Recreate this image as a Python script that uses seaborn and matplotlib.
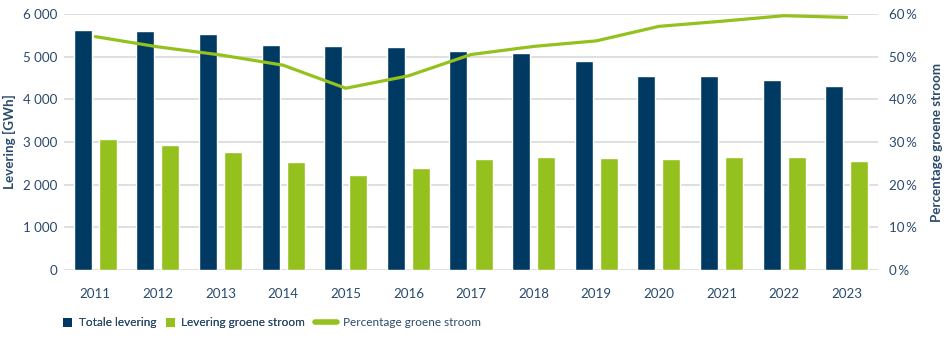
import numpy as np
import pandas as pd
import matplotlib
matplotlib.use("Agg")
import matplotlib.pyplot as plt
import seaborn as sns
from matplotlib.lines import Line2D
from matplotlib.patches import Patch
from matplotlib.ticker import FuncFormatter

years = ["2011", "2012", "2013", "2014", "2015", "2016", "2017",
         "2018", "2019", "2020", "2021", "2022", "2023"]
totale_levering = [5620, 5595, 5525, 5275, 5250, 5235, 5140,
                   5085, 4900, 4555, 4540, 4460, 4315]
groene_levering = [3070, 2930, 2765, 2525, 2235, 2390, 2595,
                   2650, 2625, 2595, 2650, 2650, 2555]
percentage_groen = [54.7, 52.3, 50.4, 48.0, 42.6, 45.5, 50.5,
                    52.4, 53.7, 57.1, 58.3, 59.6, 59.2]

series_names = ["Totale levering", "Levering groene stroom"]
line_name = "Percentage groene stroom"

NAVY = "#003a63"
GREEN = "#95c11f"
TEXT = "#2a4a6b"
GRID = "#d9d9d9"

df = pd.DataFrame({
    "jaar": years * 2,
    "waarde": totale_levering + groene_levering,
    "reeks": [series_names[0]] * len(years) + [series_names[1]] * len(years),
})

sns.set_theme(style="white")
plt.rcParams["font.family"] = ["Lato", "DejaVu Sans"]
FS = 9.6
LFS = 8.5

fig = plt.figure(figsize=(9.45, 3.38), dpi=100)
ax = fig.add_axes([64 / 945, 1 - 270 / 338, (878 - 64) / 945, (270 - 14) / 338])

sns.barplot(data=df, x="jaar", y="waarde", hue="reeks",
            palette=[NAVY, GREEN], width=0.8, gap=0.28,
            saturation=1, ax=ax, legend=False)

ax.set_xlim(-0.5, len(years) - 0.5)
ax.set_ylim(0, 6000)
ax.set_yticks(np.arange(0, 6001, 1000))
ax.yaxis.set_major_formatter(FuncFormatter(lambda v, p: f"{int(v):,}".replace(",", " ")))
ax.grid(axis="y", color=GRID, linewidth=1.2)
ax.set_axisbelow(True)
for s in ax.spines.values():
    s.set_visible(False)
ax.set_xlabel("")
ax.set_ylabel("Levering [GWh]", color=TEXT, fontsize=FS, fontweight="bold", labelpad=5)
ax.tick_params(axis="x", length=0, pad=13, labelsize=FS, labelcolor=TEXT)
ax.tick_params(axis="y", length=0, pad=5, labelsize=FS, labelcolor=TEXT)

ax2 = ax.twinx()
sns.lineplot(x=np.arange(len(years)), y=percentage_groen, ax=ax2,
             color=GREEN, linewidth=2.3)
ax2.set_ylim(0, 60)
ax2.set_yticks(np.arange(0, 61, 10))
ax2.yaxis.set_major_formatter(FuncFormatter(lambda v, p: f"{int(v)}\u2009%"))
for s in ax2.spines.values():
    s.set_visible(False)
ax2.grid(False)
ax2.set_ylabel(line_name, color=TEXT, fontsize=FS, fontweight="bold", labelpad=10)
ax2.tick_params(axis="y", length=0, pad=8, labelsize=FS, labelcolor=TEXT)
ax2.set_xlim(-0.5, len(years) - 0.5)

h1 = [Patch(facecolor=NAVY, edgecolor="none"), Patch(facecolor=GREEN, edgecolor="none")]
leg1 = fig.legend(h1, series_names, loc="center left", bbox_to_anchor=(54 / 945, 1 - 323 / 338),
                  ncol=2, frameon=False, handlelength=0.75, handleheight=0.75,
                  handletextpad=0.55, columnspacing=0.8, fontsize=LFS, labelcolor=TEXT,
                  borderpad=0.3)
fig.canvas.draw()
bb = leg1.get_window_extent()
x2 = (bb.x1 - 3) / 945
h2 = [Line2D([0], [0], color=GREEN, linewidth=4)]
leg2 = fig.legend(h2, [line_name], loc="center left", bbox_to_anchor=(x2, 1 - 323 / 338),
                  frameon=False, handlelength=1.9, handletextpad=0.5, fontsize=LFS,
                  labelcolor=TEXT, borderpad=0.3)
fig.add_artist(leg1)

fig.savefig("out.png", dpi=100)
